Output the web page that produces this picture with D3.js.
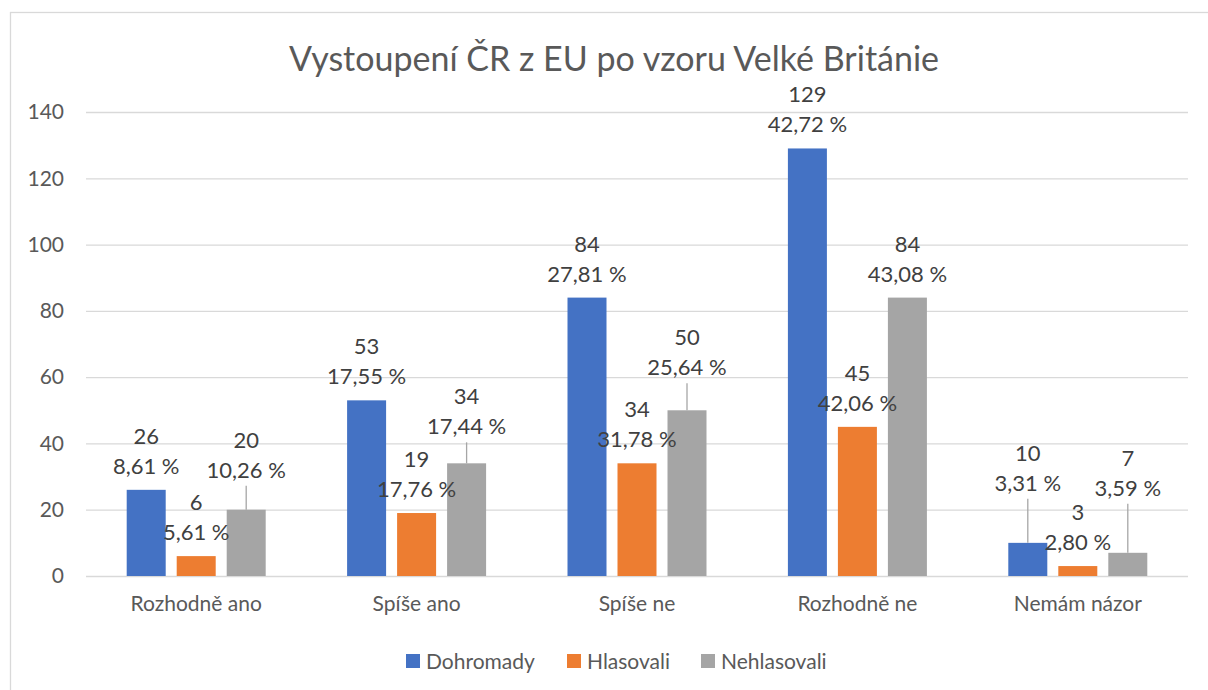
<!DOCTYPE html>
<html>
<head>
<meta charset="utf-8">
<script src="https://cdn.jsdelivr.net/npm/d3@7"></script>
<style>
  body { margin: 0; background: #fff; }
  text { font-family: "Lato", "Open Sans", sans-serif; }
</style>
</head>
<body>
<script>
// chart data
const categories = ["Rozhodně ano", "Spíše ano", "Spíše ne", "Rozhodně ne", "Nemám názor"];
const series = ["Dohromady", "Hlasovali", "Nehlasovali"];
const dohromady = [26, 53, 84, 129, 10];
const hlasovali = [6, 19, 34, 45, 3];
const nehlasovali = [20, 34, 50, 84, 7];
const pctDohromady = ["8,61 %", "17,55 %", "27,81 %", "42,72 %", "3,31 %"];
const pctHlasovali = ["5,61 %", "17,76 %", "31,78 %", "42,06 %", "2,80 %"];
const pctNehlasovali = ["10,26 %", "17,44 %", "25,64 %", "43,08 %", "3,59 %"];
const yTicks = [0, 20, 40, 60, 80, 100, 120, 140];

// layout only: labels that were dragged further up (px), by series then category
const labelLift = [
    [0, 0, 0, 0, 36],
    [0, 0, 0, 0, 0],
    [16, 13, 19, 0, 41]
];

const w = 1208, h = 690;
const colors = ["#4472C4", "#ED7D31", "#A5A5A5"];
const values = [dohromady, hlasovali, nehlasovali];
const pcts = [pctDohromady, pctHlasovali, pctNehlasovali];

const svg = d3.select("body").append("svg")
    .attr("width", w)
    .attr("height", h);

// chart area border
svg.append("rect")
    .attr("x", 10.5).attr("y", 12.5)
    .attr("width", w).attr("height", h)
    .style("fill", "#fff")
    .style("stroke", "#d9d9d9")
    .style("stroke-width", 1.3);

// title
svg.append("text")
    .attr("x", 614).attr("y", 71)
    .attr("text-anchor", "middle")
    .style("font-size", "34px")
    .style("fill", "#595959")
    .text("Vystoupení ČR z EU po vzoru Velké Británie");

// scales
const y = d3.scaleLinear().domain([0, 140]).range([576, 112]);
const x0 = d3.scaleBand().domain(categories).range([86, 1188]).padding(0);
const half = 69.5;
const x1 = d3.scaleBand().domain(series)
    .range([x0.bandwidth() / 2 - half, x0.bandwidth() / 2 + half])
    .paddingInner(0.22);

// gridlines + y labels
const yAxis = d3.axisLeft(y).tickValues(yTicks).tickSize(-(1188 - 86)).tickPadding(22);
const gy = svg.append("g")
    .attr("transform", "translate(86,0)")
    .call(yAxis);
gy.select(".domain").remove();
gy.selectAll(".tick line").style("stroke", "#d9d9d9").style("stroke-width", 1.3);
gy.selectAll(".tick text")
    .style("font-size", "21px")
    .style("fill", "#595959")
    .style("font-family", "Lato, sans-serif");

// category labels
const xAxis = d3.axisBottom(x0).tickSize(0).tickPadding(20);
const gx = svg.append("g")
    .attr("transform", "translate(0,576)")
    .call(xAxis);
gx.select(".domain").remove();
gx.selectAll(".tick text")
    .style("font-size", "21px")
    .style("fill", "#595959")
    .style("font-family", "Lato, sans-serif");

// bars
const rows = [];
series.forEach((s, si) => {
    categories.forEach((c, ci) => {
        rows.push({ s, si, c, ci, v: values[si][ci], p: pcts[si][ci], lift: labelLift[si][ci] });
    });
});

svg.selectAll(".bar")
    .data(rows)
    .enter()
    .append("rect")
    .attr("class", "bar")
    .attr("x", d => x0(d.c) + x1(d.s))
    .attr("y", d => y(d.v))
    .attr("width", x1.bandwidth())
    .attr("height", d => y(0) - y(d.v))
    .style("fill", d => colors[d.si]);

// leader lines for moved labels
svg.selectAll(".leader")
    .data(rows.filter(d => d.lift > 10))
    .enter()
    .append("line")
    .attr("class", "leader")
    .attr("x1", d => x0(d.c) + x1(d.s) + x1.bandwidth() / 2)
    .attr("x2", d => x0(d.c) + x1(d.s) + x1.bandwidth() / 2)
    .attr("y1", d => y(d.v) - d.lift - 8)
    .attr("y2", d => y(d.v))
    .style("stroke", "#a6a6a6")
    .style("stroke-width", 1.3);

// data labels (value + percent)
const labels = svg.selectAll(".lbl")
    .data(rows)
    .enter()
    .append("text")
    .attr("class", "lbl")
    .attr("text-anchor", "middle")
    .style("font-size", "22px")
    .style("fill", "#404040");

labels.append("tspan")
    .attr("x", d => x0(d.c) + x1(d.s) + x1.bandwidth() / 2)
    .attr("y", d => y(d.v) - d.lift - 46)
    .text(d => d.v);

labels.append("tspan")
    .attr("x", d => x0(d.c) + x1(d.s) + x1.bandwidth() / 2)
    .attr("y", d => y(d.v) - d.lift - 16)
    .text(d => d.p);

// legend
const legendX = [406, 567, 701];
const legend = svg.selectAll(".legend")
    .data(series)
    .enter()
    .append("g")
    .attr("class", "legend")
    .attr("transform", (d, i) => `translate(${legendX[i]},654)`);

legend.append("rect")
    .attr("width", 14).attr("height", 14)
    .style("fill", (d, i) => colors[i]);

legend.append("text")
    .attr("x", 20).attr("y", 14.5)
    .style("font-size", "21px")
    .style("fill", "#595959")
    .text(d => d);
</script>
</body>
</html>
